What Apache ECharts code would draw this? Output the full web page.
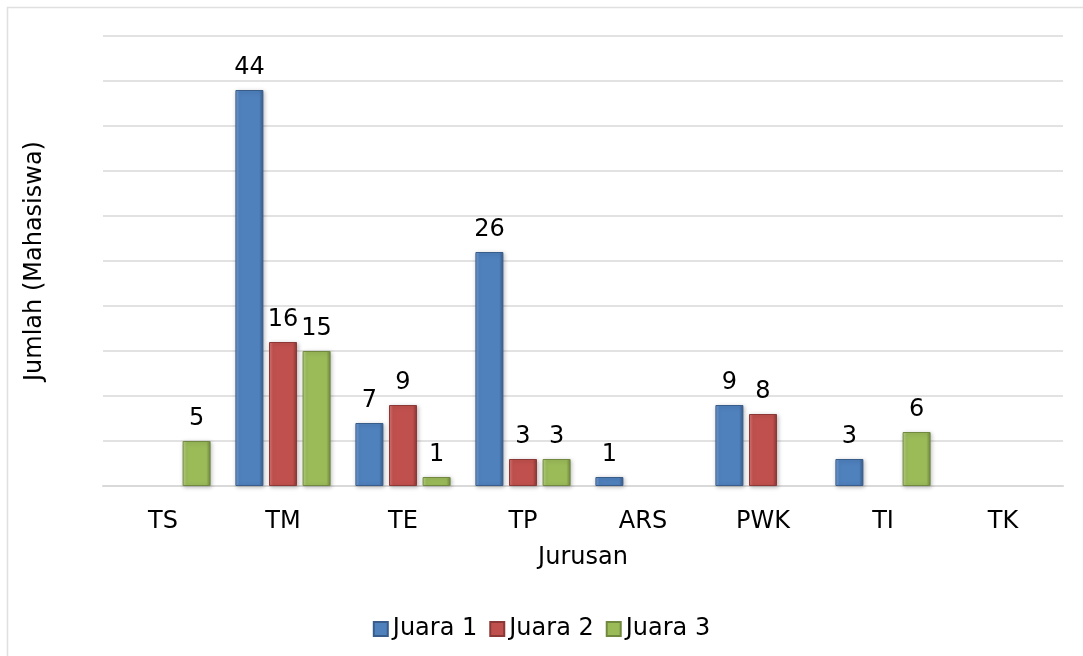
<!DOCTYPE html>
<html>
<head>
<meta charset="utf-8">
<script src="https://cdn.jsdelivr.net/npm/echarts@6/dist/echarts.min.js"></script>
<style>
  html, body { margin: 0; padding: 0; background: #fff; }
  #main { width: 1083px; height: 656px; }
</style>
</head>
<body>
<div id="main"></div>
<script>
// data
var jurusan = ['TS', 'TM', 'TE', 'TP', 'ARS', 'PWK', 'TI', 'TK'];
var juara1 = [0, 44, 7, 26, 1, 9, 3, 0];
var juara2 = [0, 16, 9, 3, 0, 8, 0, 0];
var juara3 = [5, 15, 1, 3, 0, 0, 6, 0];

var font = 'DejaVu Sans';

function bevel(c1, c2, c3) {
  return new echarts.graphic.LinearGradient(0, 0, 1, 0, [
    { offset: 0, color: c1 },
    { offset: 0.15, color: c2 },
    { offset: 0.85, color: c2 },
    { offset: 1, color: c3 }
  ]);
}

function makeSeries(name, data, c1, c2, c3) {
  return {
    name: name,
    type: 'bar',
    barWidth: 28,
    barGap: '20%',
    data: data.map(function (v) { return v === 0 ? null : v; }),
    itemStyle: {
      color: bevel(c1, c2, c3),
      borderColor: c3,
      borderWidth: 1,
      shadowColor: 'rgba(0,0,0,0.25)',
      shadowBlur: 4,
      shadowOffsetX: 1,
      shadowOffsetY: 1
    },
    label: {
      show: true,
      position: 'top',
      distance: 10,
      color: '#000',
      fontFamily: font,
      fontSize: 24
    }
  };
}

var myChart = echarts.init(document.getElementById('main'));
var option = {
  backgroundColor: '#fff',
  animation: false,
  graphic: [{
    type: 'rect',
    shape: { x: 7.5, y: 7.5, width: 1090, height: 660 },
    style: { fill: 'none', stroke: '#e0e0e0', lineWidth: 1.5 },
    silent: true
  }],
  grid: { left: 103, right: 20, top: 36, bottom: 170 },
  legend: {
    bottom: 10,
    left: 'center',
    itemWidth: 14,
    itemHeight: 14,
    itemGap: 12,
    icon: 'rect',
    textStyle: { fontFamily: font, fontSize: 24, color: '#000' },
    data: ['Juara 1', 'Juara 2', 'Juara 3']
  },
  xAxis: {
    type: 'category',
    data: jurusan,
    name: 'Jurusan',
    nameLocation: 'middle',
    nameGap: 60,
    nameTextStyle: { fontFamily: font, fontSize: 24, color: '#000' },
    axisLine: { lineStyle: { color: '#d9d9d9', width: 2 } },
    axisTick: { show: false },
    axisLabel: { fontFamily: font, fontSize: 24, color: '#000', margin: 24 }
  },
  yAxis: {
    type: 'value',
    min: 0,
    max: 50,
    interval: 5,
    name: 'Jumlah (Mahasiswa)',
    nameLocation: 'middle',
    nameGap: 56,
    nameTextStyle: { fontFamily: font, fontSize: 24, color: '#000' },
    axisLabel: { show: false },
    axisLine: { show: false },
    axisTick: { show: false },
    splitLine: { lineStyle: { color: '#d9d9d9', width: 1.5 } }
  },
  series: [
    makeSeries('Juara 1', juara1, '#7aa3d8', '#4f81bd', '#385d8a'),
    makeSeries('Juara 2', juara2, '#dc7b78', '#c0504d', '#8c3836'),
    makeSeries('Juara 3', juara3, '#bdd88a', '#9bbb59', '#71893f')
  ]
};
myChart.setOption(option);
</script>
</body>
</html>
